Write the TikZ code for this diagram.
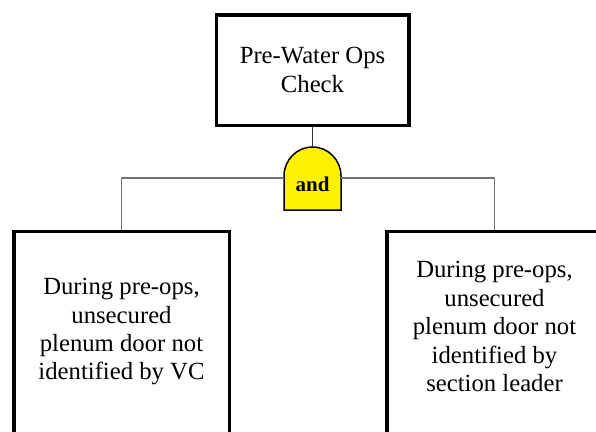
\documentclass[tikz,border=0pt]{standalone}
\usepackage{fontspec}
\setmainfont{Liberation Serif}
\begin{document}
\begin{tikzpicture}[x=1pt,y=-1pt,
  evbox/.style={draw=black, line width=3.5pt, fill=white, inner sep=0pt},
  boxtext/.style={align=center, font=\fontsize{24.7}{28.4}\selectfont, inner sep=0pt},
  conn/.style={draw=black!55, line width=1.3pt},
  gatestyle/.style={draw=black, line width=1.5pt, fill=yellow}]
\useasboundingbox (0,0) rectangle (596,431);
\clip (0,0) rectangle (596,431);
% top event
\node[evbox, minimum width=192.5pt, minimum height=110.5pt, boxtext] (top) at (312.5,70) {Pre-Water Ops\\Check};
% gate
\coordinate (gtop) at (312.5,147);
\coordinate (gl) at (284,178);
\coordinate (gr) at (341,178);
\draw[gatestyle] (284,210) -- (284,176) .. controls (284,160) and (296.8,147) .. (312.5,147)
  .. controls (328.2,147) and (341,160) .. (341,176) -- (341,210) -- cycle;
\node[font=\fontsize{21}{24}\selectfont\bfseries, inner sep=0pt] (gate) at (312.5,184) {and};
% basic events
\node[evbox, minimum width=215.5pt, minimum height=220pt, anchor=north] (l) at (121.5,229.75) {};
\node[boxtext] (lt) at (121.5,331.7) {During pre-ops,\\unsecured\\plenum door not\\identified by VC};
\node[evbox, minimum width=215.5pt, minimum height=220pt, anchor=north] (r) at (494.5,229.75) {};
\node[boxtext] (rt) at (494.5,326.6) {During pre-ops,\\unsecured\\plenum door not\\identified by\\section leader};
% connectors
\draw[draw=black!80, line width=1.3pt] (top.south) -- (gtop);
\draw[conn] (gl) -| (l.north);
\draw[conn] (gr) -| (r.north);
\end{tikzpicture}
\end{document}
